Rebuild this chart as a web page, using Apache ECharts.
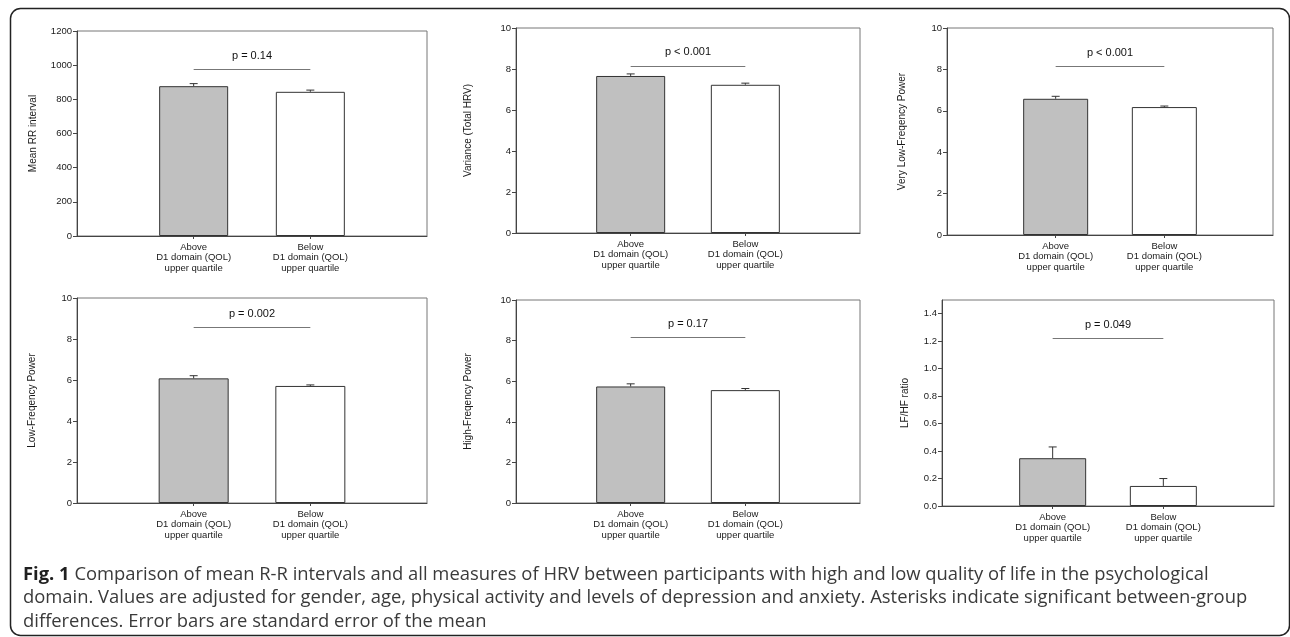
<!DOCTYPE html>
<html>
<head>
<meta charset="utf-8">
<script src="https://cdn.jsdelivr.net/npm/echarts@6/dist/echarts.min.js"></script>
<style>
html,body{margin:0;padding:0;background:#fff;}
#fig{width:1290px;height:637px;}
</style>
</head>
<body>
<div id="fig"></div>
<script>
// groups on the x axis (empty slots at both ends keep the bars at 1/3 and 2/3)
var groups = ['', 'Above\nD1 domain (QOL)\nupper quartile', 'Below\nD1 domain (QOL)\nupper quartile', ''];

// means and standard errors, above / below
var meanRR = [877, 844],       meanRRErr = [15, 10];
var variance = [7.66, 7.23],   varianceErr = [0.10, 0.08];
var vlf = [6.58, 6.18],        vlfErr = [0.12, 0.05];
var lf = [6.08, 5.71],         lfErr = [0.13, 0.05];
var hf = [5.74, 5.56],         hfErr = [0.13, 0.08];
var lfhf = [0.348, 0.146],     lfhfErr = [0.082, 0.054];

var yNames = ['Mean RR interval', 'Variance (Total HRV)', 'Very Low-Freqency Power',
              'Low-Freqency Power', 'High-Freqency Power', 'LF/HF ratio'];
var yMax = [1200, 10, 10, 10, 10, 1.5];
var yStep = [200, 2, 2, 2, 2, 0.2];
var pTexts = ['p = 0.14', 'p < 0.001', 'p < 0.001', 'p = 0.002', 'p = 0.17', 'p = 0.049'];
var pLevel = [974, 8.15, 8.13, 8.55, 8.15, 1.223];

var caption = '{b|Fig. 1} Comparison of mean R-R intervals and all measures of HRV between participants with high and low quality of life in the psychological\n' +
  'domain. Values are adjusted for gender, age, physical activity and levels of depression and anxiety. Asterisks indicate significant between-group\n' +
  'differences. Error bars are standard error of the mean';

var means = [meanRR, variance, vlf, lf, hf, lfhf];
var errs = [meanRRErr, varianceErr, vlfErr, lfErr, hfErr, lfhfErr];

// panel boxes [left, top, width, height, barWidth, nameGap]
var boxes = [
  [77, 31, 350, 205, 69, 39],
  [516, 28, 344, 205, 69, 43],
  [947, 28, 326, 207, 65, 40],
  [77, 298, 350, 205, 70, 40],
  [516, 300, 344, 203, 69, 43],
  [942, 300, 332, 206, 67, 32]
];

var font = 'Liberation Sans, Arial, sans-serif';
var chart = echarts.init(document.getElementById('fig'));

var grid = [], xAxis = [], yAxis = [], series = [];
boxes.forEach(function (b, k) {
  grid.push({left: b[0], top: b[1], width: b[2], height: b[3], show: true,
             borderColor: '#777', borderWidth: 1, containLabel: false});
  xAxis.push({
    type: 'category', gridIndex: k, data: groups, boundaryGap: false,
    axisLine: {lineStyle: {color: '#444'}},
    axisTick: {length: 3, interval: function (i) { return i === 1 || i === 2; }, lineStyle: {color: '#444'}},
    axisLabel: {interval: 0, fontSize: 9.5, lineHeight: 10.5, color: '#1a1a1a', margin: 6, fontFamily: font},
    splitLine: {show: false}
  });
  yAxis.push({
    type: 'value', gridIndex: k, min: 0, max: yMax[k], interval: yStep[k],
    name: yNames[k], nameLocation: 'middle', nameGap: b[5], nameRotate: 90,
    nameTextStyle: {fontSize: 10, color: '#1a1a1a', fontFamily: font},
    axisLine: {show: true, lineStyle: {color: '#444'}},
    axisTick: {show: true, length: 4, lineStyle: {color: '#444'}},
    axisLabel: {fontSize: 9.5, color: '#1a1a1a', margin: 5, fontFamily: font, showMaxLabel: k !== 5,
                formatter: function (v) { return k === 5 ? v.toFixed(1) : String(v); }},
    splitLine: {show: false}
  });
  var m = means[k];
  series.push({
    type: 'bar', xAxisIndex: k, yAxisIndex: k, barWidth: b[4],
    data: ['-',
      {value: m[0], itemStyle: {color: '#c0c0c0', borderColor: '#333', borderWidth: 1}},
      {value: m[1], itemStyle: {color: '#ffffff', borderColor: '#333', borderWidth: 1}},
      '-'],
    markLine: {
      silent: true, symbol: ['none', 'none'],
      lineStyle: {color: '#777', type: 'solid', width: 1},
      label: {show: true, position: 'insideMiddleTop', distance: 8, formatter: pTexts[k],
              fontSize: 11, color: '#111', fontFamily: font},
      data: [[{coord: [1, pLevel[k]]}, {coord: [2, pLevel[k]]}]]
    }
  });
  series.push({
    type: 'custom', xAxisIndex: k, yAxisIndex: k, z: 3,
    data: [[1, m[0], errs[k][0]], [2, m[1], errs[k][1]]],
    encode: {x: 0, y: 1},
    renderItem: function (params, api) {
      var base = api.coord([api.value(0), api.value(1)]);
      var top = api.coord([api.value(0), api.value(1) + api.value(2)]);
      var st = {stroke: '#333', lineWidth: 1};
      return {type: 'group', children: [
        {type: 'line', shape: {x1: base[0], y1: base[1], x2: top[0], y2: top[1]}, style: st},
        {type: 'line', shape: {x1: top[0] - 4, y1: top[1], x2: top[0] + 4, y2: top[1]}, style: st}
      ]};
    }
  });
});

chart.setOption({
  animation: false,
  backgroundColor: '#fff',
  grid: grid, xAxis: xAxis, yAxis: yAxis, series: series,
  graphic: [
    {type: 'rect', shape: {x: 10.5, y: 8.5, width: 1279, height: 627, r: 10},
     style: {fill: 'none', stroke: '#222', lineWidth: 1.5}},
    {type: 'text', left: 23, top: 563,
     style: {text: caption, fontSize: 18.4, lineHeight: 23.5, fill: '#3a3a3a', fontFamily: 'Open Sans, sans-serif',
             rich: {b: {fontWeight: 'bold', fontSize: 18.4, fill: '#1f1f1f', fontFamily: 'Open Sans, sans-serif'}}}}
  ]
});
</script>
</body>
</html>
